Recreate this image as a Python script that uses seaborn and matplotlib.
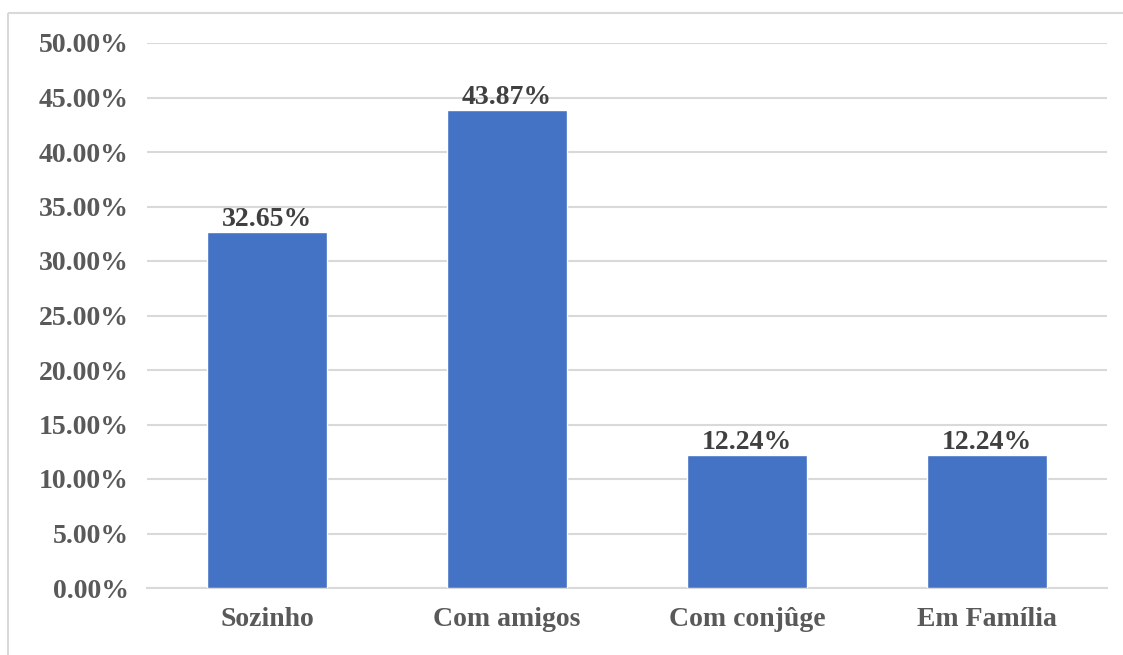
import matplotlib
matplotlib.use("Agg")
import matplotlib.pyplot as plt
import seaborn as sns
import pandas as pd
from matplotlib.lines import Line2D
from matplotlib.ticker import FuncFormatter, MultipleLocator

categories = ["Sozinho", "Com amigos", "Com conjûge", "Em Família"]
shares = [32.65, 43.87, 12.24, 12.24]  # percent

df = pd.DataFrame({"categoria": categories, "percentual": shares})

sns.set_theme(style="white")
plt.rcParams["font.family"] = ["Liberation Serif", "DejaVu Serif"]

fig = plt.figure(figsize=(11.23, 6.55), dpi=100)
W, H = 1123, 655
ax = fig.add_axes([147 / W, 1 - 588 / H, (1107 - 147) / W, (588 - 43) / H])

sns.barplot(data=df, x="categoria", y="percentual", color="#4472C4",
            width=0.5, saturation=1, ax=ax, zorder=3)

ax.set_ylim(0, 50)
ax.set_xlim(-0.5, len(categories) - 0.5)
ax.yaxis.set_major_locator(MultipleLocator(5))
ax.yaxis.set_major_formatter(FuncFormatter(lambda v, _: f"{v:.2f}%"))
ax.grid(axis="y", color="#D9D9D9", linewidth=1.5, zorder=0)
ax.set_axisbelow(True)
for side in ["top", "right", "left"]:
    ax.spines[side].set_visible(False)
ax.spines["bottom"].set_color("#D9D9D9")
ax.spines["bottom"].set_linewidth(1.5)
ax.set_xlabel("")
ax.set_ylabel("")
ax.tick_params(axis="both", length=0, labelsize=20, labelcolor="#595959")
ax.tick_params(axis="y", pad=13)
ax.tick_params(axis="x", pad=14)
for lbl in ax.get_xticklabels() + ax.get_yticklabels():
    lbl.set_fontweight("bold")

for container in ax.containers:
    ax.bar_label(container, labels=[f"{v:.2f}%" for v in shares],
                 fontsize=20, fontweight="bold", color="#404040", padding=0)

# thin frame lines along the top and left edges of the chart area
frame = dict(transform=fig.transFigure, color="#D9D9D9", linewidth=1.5,
             solid_capstyle="butt")
fig.lines.append(Line2D([8 / W, 1.05], [1 - 13 / H, 1 - 13 / H], **frame))
fig.lines.append(Line2D([8 / W, 8 / W], [-0.05, 1 - 13 / H], **frame))

fig.savefig("out.png", dpi=100, facecolor="white")
